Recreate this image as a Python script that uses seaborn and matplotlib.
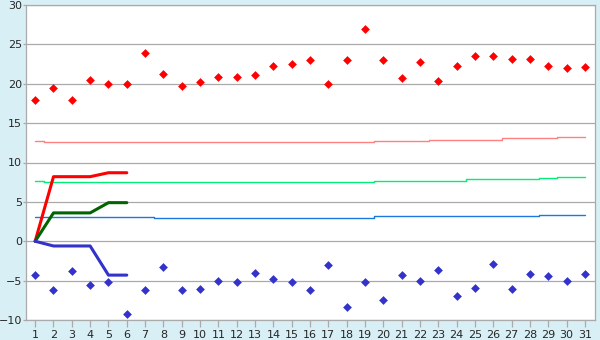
import matplotlib
matplotlib.use("Agg")
import matplotlib.pyplot as plt
import seaborn as sns
import numpy as np
import pandas as pd

days = list(range(1, 32))
tmax = [18.0, 19.4, 17.9, 20.5, 20.0, 20.0, 23.9, 21.3, 19.7, 20.2,
        20.8, 20.8, 21.1, 22.2, 22.5, 23.0, 20.0, 23.0, 27.0, 23.0,
        20.7, 22.8, 20.4, 22.2, 23.5, 23.5, 23.1, 23.2, 22.2, 22.0, 22.1]
tmin = [-4.3, -6.2, -3.8, -5.5, -5.2, -9.3, -6.2, -3.3, -6.2, -6.0,
        -5.0, -5.2, -4.0, -4.8, -5.2, -6.2, -3.0, -8.3, -5.2, -7.5,
        -4.3, -5.0, -3.6, -6.9, -5.9, -2.9, -6.0, -4.2, -4.4, -5.0, -4.2]
norm_max = [12.7] + [12.6] * 18 + [12.7] * 3 + [12.8] * 2 + [12.9] * 2 + [13.1] * 3 + [13.2] * 2
norm_mean = [7.6] + [7.5] * 18 + [7.6] * 3 + [7.7] * 2 + [7.9] * 4 + [8.0] + [8.1] * 2
norm_min = [3.1] * 7 + [3.0] * 12 + [3.2] * 9 + [3.3] * 3
cum_days = [1, 2, 3, 4, 5, 6]
cum_max = [0.0, 8.2, 8.2, 8.2, 8.7, 8.7]
cum_mean = [0.0, 3.6, 3.6, 3.6, 4.9, 4.9]
cum_min = [0.0, -0.6, -0.6, -0.6, -4.3, -4.3]

sns.set_style("white")
plt.rcParams['font.family'] = ['DejaVu Sans']

fig = plt.figure(figsize=(6, 3.4), dpi=100, facecolor="#d9eff6")
ax = fig.add_axes([26/600, 1 - 320/340, (595 - 26)/600, (320 - 5)/340])
ax.set_facecolor("white")

grid_c = "#aaaaaa"
for v in range(-10, 31, 5):
    ax.axhline(v, color=grid_c, lw=0.9, zorder=0)

sns.lineplot(x=days, y=norm_max, ax=ax, color="#ff8080", lw=1.0, drawstyle="steps-mid")
sns.lineplot(x=days, y=norm_mean, ax=ax, color="#00ee77", lw=1.0, drawstyle="steps-mid")
sns.lineplot(x=days, y=norm_min, ax=ax, color="#1a78e0", lw=1.0, drawstyle="steps-mid")

sns.lineplot(x=cum_days, y=cum_max, ax=ax, color="#ff0000", lw=2.2)
sns.lineplot(x=cum_days, y=cum_mean, ax=ax, color="#006400", lw=2.2)
sns.lineplot(x=cum_days, y=cum_min, ax=ax, color="#3333cc", lw=2.2)

sns.scatterplot(x=days, y=tmax, ax=ax, color="#ff0000", marker="D", s=20, linewidth=0)
sns.scatterplot(x=days, y=tmin, ax=ax, color="#3333cc", marker="D", s=20, linewidth=0)

ax.set_xlim(0.5, 31.55)
ax.set_ylim(-10, 30)
ax.set_xticks(days)
ax.set_xticklabels([str(d) for d in days])
ax.set_yticks(range(-10, 31, 5))
ax.tick_params(axis="x", length=5, width=0.9, color=grid_c, labelsize=8, pad=2, bottom=True)
ax.tick_params(axis="y", length=2, width=0.9, color=grid_c, labelsize=8, pad=1, left=True)
for s in ax.spines.values():
    s.set_color(grid_c)
    s.set_linewidth(0.9)

fig.savefig("out.png", dpi=100, facecolor=fig.get_facecolor())
